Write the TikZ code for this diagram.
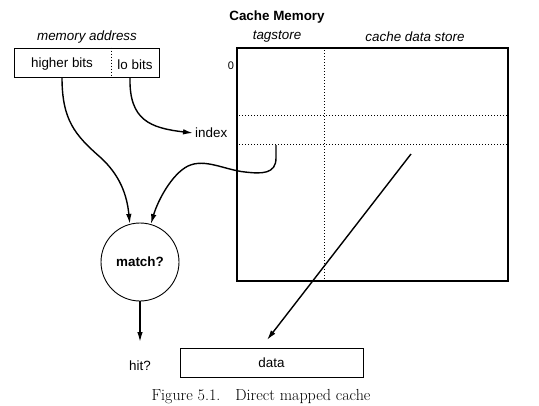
\documentclass[tikz,border=0pt]{standalone}
\usepackage{fontspec}
\setsansfont{Liberation Sans}
\usetikzlibrary{arrows.meta}
\begin{document}
\begin{tikzpicture}[x=1pt,y=-1pt,
  lbl/.style={font=\sffamily\fontsize{13.4}{16}\selectfont, inner sep=2pt},
  ital/.style={lbl, font=\sffamily\itshape\fontsize{13.4}{16}\selectfont},
  bold/.style={lbl, font=\sffamily\bfseries\fontsize{13.4}{16}\selectfont},
  box/.style={draw, line width=0.9pt, inner sep=0pt},
  divider/.style={dotted, line width=1pt},
  conn/.style={line width=1.4pt},
  arr/.style={conn, -{Latex[length=10pt,width=5.5pt]}}]
\useasboundingbox (0,0) rectangle (539,405);

% titles
\node[bold] (title) at (277,17) {Cache Memory};
\node[ital] (maddr) at (87,37) {memory address};
\node[ital] (tagst) at (277,37) {tagstore};
\node[ital] (cdst) at (415,37) {cache data store};

% memory address box
\node[box, minimum width=145pt, minimum height=29pt] (addr) at (86.5,62.5) {};
\draw[divider] ([xshift=98pt]addr.north west) -- ([xshift=98pt]addr.south west);
\node[lbl] (hb) at (62,64.5) {higher bits};
\node[lbl] (lb) at (135,64.5) {lo bits};

% cache box
\node[box, line width=1.6pt, minimum width=271pt, minimum height=233pt] (cache) at (372.5,164.5) {};
\draw[divider] ([xshift=88pt]cache.north west) -- ([xshift=88pt]cache.south west);
\draw[divider] ([yshift=-68pt]cache.north west) -- ([yshift=-68pt]cache.north east);
\draw[divider] ([yshift=-97pt]cache.north west) -- ([yshift=-97pt]cache.north east);
\node[lbl, font=\sffamily\fontsize{11}{12}\selectfont] (zero) at (231,66) {0};
\node[lbl, anchor=west] (index) at (193,133) {index};

% match circle
\node[draw, circle, line width=0.9pt, minimum size=78pt, inner sep=0pt,
      font=\sffamily\bfseries\fontsize{13.4}{16}\selectfont] (match) at (140,262) {match?};
\node[lbl] (hit) at (140,366) {hit?};
\coordinate (hitin) at (140,342);

% data box
\node[box, minimum width=183pt, minimum height=29pt, font=\sffamily\fontsize{13.4}{16}\selectfont] (data) at (271.5,362.5) {data};
\coordinate (dstart) at (411,154);
\coordinate (dend) at (267,340);

% connectors
\coordinate (hbs) at (hb.south |- addr.south);
\coordinate (lbs) at ([xshift=-5pt]lb.south |- addr.south);
\coordinate (tags) at (276,145);
\draw[arr] (hbs) .. controls (62,120) and (75,135) .. (100,157)
  .. controls (120,175) and (127,195) .. (match.105);
\draw[arr] (lbs) .. controls (129,120) and (150,128) .. (index.west);
\draw[arr] (tags) -- (276,158) .. controls (276,174) and (262,174) .. (245,172)
  .. controls (225,170) and (205,158) .. (188,166)
  .. controls (172,174) and (158,200) .. (match.74);
\draw[arr] (match.south) -- (hitin);
\draw[arr] (dstart) -- (dend);

% caption
\node[inner sep=0pt, font=\fontsize{16}{19}\selectfont] (caption) at (261,397) {Figure 5.1.\hspace{15pt}Direct mapped cache};
\end{tikzpicture}
\end{document}
